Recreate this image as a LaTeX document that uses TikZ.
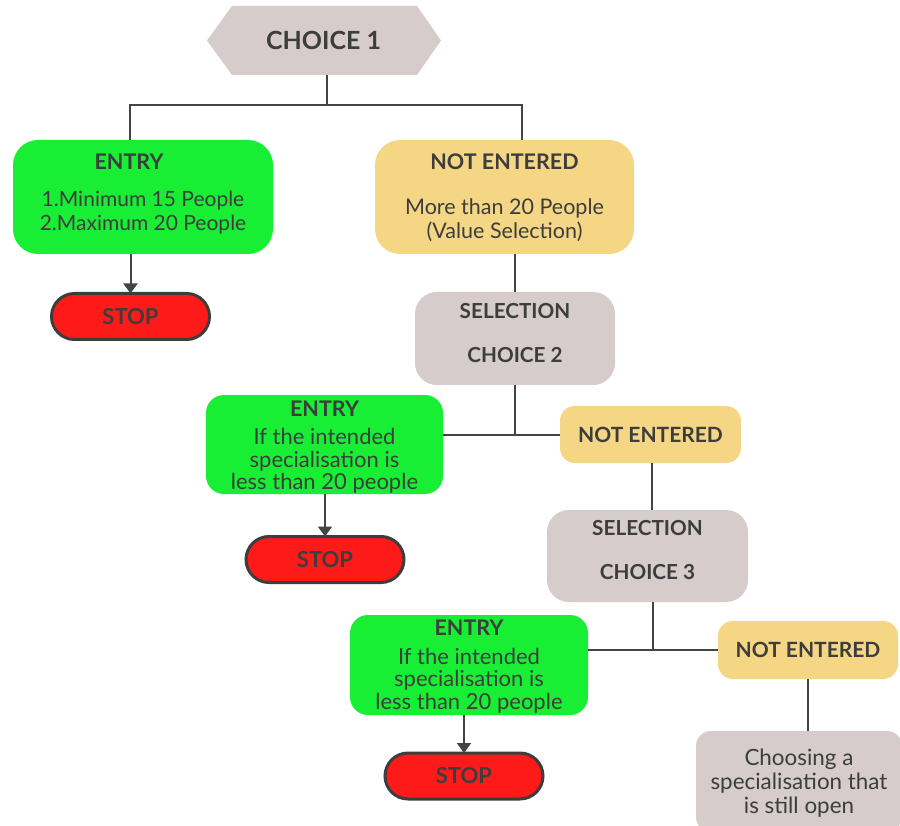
\documentclass[tikz,border=0pt]{standalone}
\usepackage{fontspec}
\setmainfont{Lato}
\usetikzlibrary{arrows.meta}
\definecolor{txt}{HTML}{3D3D3D}
\definecolor{lin}{HTML}{444444}
\definecolor{gbox}{HTML}{18EE34}
\definecolor{ybox}{HTML}{F4D685}
\definecolor{kbox}{HTML}{D5CCCB}
\definecolor{rbox}{HTML}{FF1A1A}
\newcommand\tb[2]{\raisebox{#1}[\height][\depth]{\begin{tabular}{@{}c@{}}#2\end{tabular}}}
\newcommand\hd[1]{{\fontsize{21.5}{24}\selectfont\bfseries #1}}
\tikzset{
  box/.style={inner sep=0pt, outer sep=0pt, align=center, text=txt,
    font=\fontsize{21}{24}\selectfont},
  entrybox/.style={box, fill=gbox},
  notbox/.style={box, fill=ybox},
  selbox/.style={box, fill=kbox},
  stopbox/.style={box, fill=rbox, draw=txt, line width=3pt, rounded corners=23pt,
    minimum width=158pt, minimum height=46pt, font=\fontsize{22}{24}\selectfont\bfseries},
  conn/.style={draw=lin, line width=2pt},
  arr/.style={conn, -{Triangle[width=14pt,length=10pt]}},
}
\begin{document}
\begin{tikzpicture}[x=1pt,y=-1pt]
\useasboundingbox (0,0) rectangle (900,826);
% hexagon
\fill[kbox] (207,40.5) -- (232,6) -- (417,6) -- (441,40.5) -- (417,75) -- (232,75) -- cycle;
\node[box, minimum width=234pt, minimum height=69pt, font=\fontsize{25}{30}\selectfont\bfseries] (c1) at (323.5,40.5) {CHOICE 1};

\node[entrybox, rounded corners=25pt, minimum width=260pt, minimum height=114pt] (e1) at (143,197)
  {\tb{2pt}{\hspace*{-28pt}\hd{ENTRY}\\[13pt]1.Minimum 15 People\\2.Maximum 20 People}};
\node[stopbox] (s1) at (130.5,316.5) {STOP};

\node[notbox, rounded corners=25pt, minimum width=259pt, minimum height=114pt,
  font=\fontsize{21.5}{24}\selectfont] (n1) at (504.5,197)
  {\tb{-2pt}{\hd{NOT ENTERED}\\[21pt]More than 20 People\\(Value Selection)}};

\node[selbox, rounded corners=22pt, minimum width=200pt, minimum height=93pt,
  font=\fontsize{20.7}{24}\selectfont\bfseries] (sel2) at (515,338.5)
  {\tb{3pt}{SELECTION\\[20pt]CHOICE 2}};

\node[entrybox, rounded corners=18pt, minimum width=237pt, minimum height=99pt,
  font=\fontsize{22}{21}\selectfont] (e2) at (324.5,444.5)
  {\tb{-4pt}{\hd{ENTRY}\\[6pt]If the intended\\specialisation is\\less than 20 people}};
\node[stopbox] (s2) at (325,559.5) {STOP};

\node[notbox, rounded corners=15pt, minimum width=181pt, minimum height=57pt,
  font=\fontsize{21}{24}\selectfont\bfseries] (n2) at (650.5,434.5)
  {NOT ENTERED};

\node[selbox, rounded corners=22pt, minimum width=201pt, minimum height=92pt,
  font=\fontsize{20.7}{24}\selectfont\bfseries] (sel3) at (647.5,556)
  {\tb{3pt}{SELECTION\\[20pt]CHOICE 3}};

\node[entrybox, rounded corners=18pt, minimum width=238pt, minimum height=100pt,
  font=\fontsize{22}{21}\selectfont] (e3) at (469,665)
  {\tb{-3pt}{\hd{ENTRY}\\[6pt]If the intended\\specialisation is\\less than 20 people}};
\node[stopbox] (s3) at (464,776) {STOP};

\node[notbox, rounded corners=15pt, minimum width=180pt, minimum height=58pt,
  font=\fontsize{21}{24}\selectfont\bfseries] (n3) at (808,650)
  {NOT ENTERED};

\node[selbox, rounded corners=15pt, minimum width=206pt, minimum height=101pt,
  font=\fontsize{22.4}{24}\selectfont] (f) at (799,781.5)
  {\tb{-3pt}{Choosing a\\specialisation that\\is still open}};

% connectors
\coordinate (j1) at (327,105);
\draw[conn] ([xshift=3.5pt]c1.south) -- (j1);
\draw[conn] ([xshift=-13pt]e1.north) |- (j1) -| ([xshift=17.5pt]n1.north);
\draw[arr] (e1.south -| s1.north) -- (s1.north);
\draw[conn] (n1.south -| sel2.north) -- (sel2.north);
\draw[conn] (sel2.south) -- (sel2.south |- n2.west);
\draw[conn] (e2.east |- n2.west) -- (n2.west);
\draw[arr] (e2.south -| s2.north) -- (s2.north);
\draw[conn] ([xshift=1.5pt]n2.south) -- ([xshift=1.5pt]n2.south |- sel3.north);
\draw[conn] ([xshift=5.5pt]sel3.south) -- ([xshift=5.5pt]sel3.south |- n3.west);
\draw[conn] (e3.east |- n3.west) -- (n3.west);
\draw[arr] (e3.south -| s3.north) -- (s3.north);
\draw[conn] (n3.south) -- (n3.south |- f.north);
\end{tikzpicture}
\end{document}
